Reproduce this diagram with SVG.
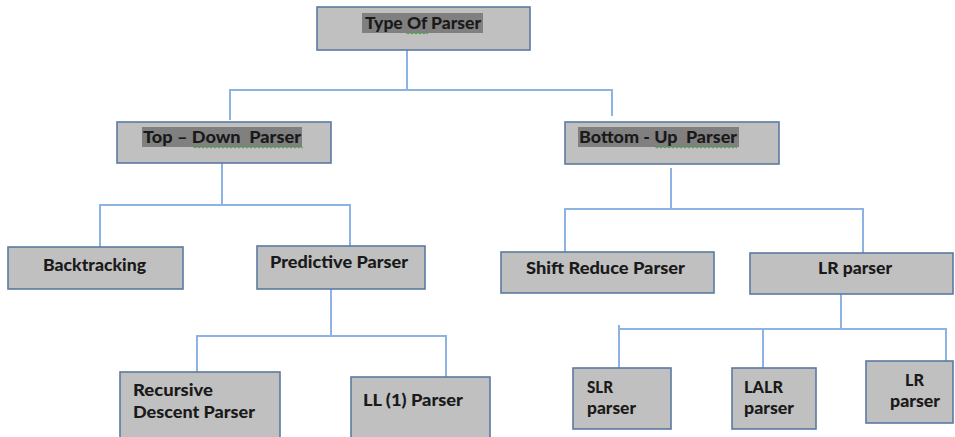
<svg xmlns="http://www.w3.org/2000/svg" width="955" height="437" viewBox="0 0 955 437">
<style>
.box{fill:#c0c0c0;stroke:#5a7aa0;stroke-width:1.6}
.hl{fill:#808080}
.t{font-family:Lato,"Liberation Sans",sans-serif;font-weight:900;font-size:17px;fill:#1a1a1a}
.c{fill:none;stroke:#8db3e2;stroke-width:2}
.sq{fill:none;stroke:#3a9a3a;stroke-width:0.9}
</style>
<rect width="955" height="437" fill="#ffffff"/>
<g id="connectors">
<path class="c" d="M407 50V90M230 120V90H612V116"/>
<path class="c" d="M222 163V205M100 247V205H350V246"/>
<path class="c" d="M671 168V209M565 252V209H863V253"/>
<path class="c" d="M331 289V336M197 372V336H446V377"/>
<path class="c" d="M841 294V329M619 368V325M619 329H946V361M763 329V368"/>
</g>
<g id="type-of-parser">
<rect class="box" x="317" y="7" width="213" height="43"/>
<rect class="hl" x="362" y="13" width="121" height="20"/>
<text class="t" x="365" y="29" textLength="116" lengthAdjust="spacingAndGlyphs">Type Of Parser</text>
<path class="sq" d="M406 32.5l2 1.5 2-1.5 2 1.5 2-1.5 2 1.5 2-1.5 2 1.5 2-1.5 2 1.5 2-1.5 2 1.5"/>
</g>
<g id="top-down-parser">
<rect class="box" x="117" y="122" width="214" height="41"/>
<rect class="hl" x="142" y="127" width="160" height="20"/>
<text class="t" x="143" y="143" textLength="158" lengthAdjust="spacingAndGlyphs" xml:space="preserve">Top – Down  Parser</text>
<path class="sq" d="M193 146.5l2 1.5 2-1.5 2 1.5 2-1.5 2 1.5 2-1.5 2 1.5 2-1.5 2 1.5 2-1.5 2 1.5 2-1.5 2 1.5 2-1.5 2 1.5 2-1.5 2 1.5 2-1.5 2 1.5 2-1.5 2 1.5 2-1.5 2 1.5 2-1.5 2 1.5 2-1.5 2 1.5 2-1.5 2 1.5 2-1.5 2 1.5 2-1.5 2 1.5 2-1.5 2 1.5 2-1.5 2 1.5 2-1.5 2 1.5 2-1.5 2 1.5 2-1.5 2 1.5 2-1.5 2 1.5 2-1.5 2 1.5 2-1.5 2 1.5 2-1.5 2 1.5 2-1.5 2 1.5 2-1.5 2 1.5"/>
</g>
<g id="bottom-up-parser">
<rect class="box" x="565" y="122" width="214" height="42"/>
<rect class="hl" x="578" y="127" width="161" height="20"/>
<text class="t" x="579" y="143" textLength="158" lengthAdjust="spacingAndGlyphs" xml:space="preserve">Bottom - Up  Parser</text>
<path class="sq" d="M655 146.5l2 1.5 2-1.5 2 1.5 2-1.5 2 1.5 2-1.5 2 1.5 2-1.5 2 1.5 2-1.5 2 1.5 2-1.5 2 1.5 2-1.5 2 1.5 2-1.5 2 1.5 2-1.5 2 1.5 2-1.5 2 1.5 2-1.5 2 1.5 2-1.5 2 1.5 2-1.5 2 1.5 2-1.5 2 1.5 2-1.5 2 1.5 2-1.5 2 1.5 2-1.5 2 1.5 2-1.5 2 1.5 2-1.5 2 1.5 2-1.5 2 1.5"/>
</g>
<g id="backtracking">
<rect class="box" x="8" y="247" width="175" height="42"/>
<text class="t" x="43" y="271" textLength="103" lengthAdjust="spacingAndGlyphs">Backtracking</text>
</g>
<g id="predictive-parser">
<rect class="box" x="257" y="246" width="168" height="43"/>
<text class="t" x="270" y="268" textLength="138" lengthAdjust="spacingAndGlyphs">Predictive Parser</text>
</g>
<g id="shift-reduce-parser">
<rect class="box" x="501" y="252" width="213" height="41"/>
<text class="t" x="526" y="274" textLength="159" lengthAdjust="spacingAndGlyphs">Shift Reduce Parser</text>
</g>
<g id="lr-parser">
<rect class="box" x="750" y="253" width="203" height="41"/>
<text class="t" x="818" y="274" textLength="74" lengthAdjust="spacingAndGlyphs">LR parser</text>
</g>
<g id="recursive-descent-parser">
<rect class="box" x="120" y="372" width="160" height="70"/>
<text class="t" x="133" y="396" textLength="80" lengthAdjust="spacingAndGlyphs">Recursive</text>
<text class="t" x="133" y="418" textLength="122" lengthAdjust="spacingAndGlyphs">Descent Parser</text>
</g>
<g id="ll1-parser">
<rect class="box" x="351" y="377" width="139" height="65"/>
<text class="t" x="363" y="406" textLength="100" lengthAdjust="spacingAndGlyphs">LL (1) Parser</text>
</g>
<g id="slr-parser">
<rect class="box" x="573" y="368" width="98" height="61"/>
<text class="t" x="587" y="393" textLength="26" lengthAdjust="spacingAndGlyphs">SLR</text>
<text class="t" x="587" y="414" textLength="49" lengthAdjust="spacingAndGlyphs">parser</text>
</g>
<g id="lalr-parser">
<rect class="box" x="732" y="368" width="84" height="61"/>
<text class="t" x="744" y="393" textLength="39" lengthAdjust="spacingAndGlyphs">LALR</text>
<text class="t" x="744" y="414" textLength="50" lengthAdjust="spacingAndGlyphs">parser</text>
</g>
<g id="lr-parser-2">
<rect class="box" x="866" y="361" width="87" height="62"/>
<text class="t" x="905" y="386" textLength="19" lengthAdjust="spacingAndGlyphs">LR</text>
<text class="t" x="890" y="407" textLength="50" lengthAdjust="spacingAndGlyphs">parser</text>
</g>
</svg>
